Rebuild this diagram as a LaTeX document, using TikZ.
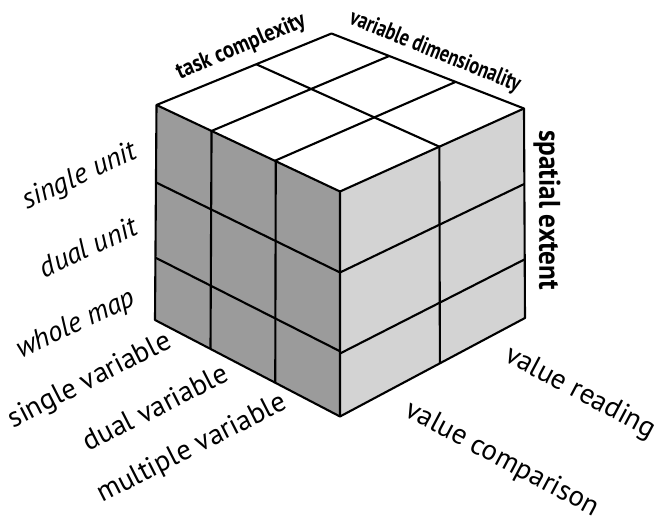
\documentclass[tikz,border=0pt]{standalone}
\usepackage{fontspec}
\setmainfont{PT Sans}
\usepackage{tikz}
\usetikzlibrary{calc}
\definecolor{face_dark}{HTML}{9B9B9B}
\definecolor{face_light}{HTML}{D3D3D3}

\begin{document}
\begin{tikzpicture}[line width=1.2pt, line join=round,
        level/.style={font=\fontsize{16.3}{18}\selectfont},
        axis/.style={font=\bfseries\fontsize{13.5}{15}\selectfont}]
                \useasboundingbox (0,0) rectangle (13.38,10.38);
                \coordinate (tl) at (3.13,8.28);
                \coordinate (tf) at (6.80,6.55);
                \coordinate (tr) at (10.48,8.21);
                \coordinate (tb) at (6.63,9.71);
                \coordinate (bl) at (3.10,3.98);
                \coordinate (bf) at (6.80,2.05);
                \coordinate (br) at (10.50,4.02);
                \fill[face_dark] (tl) -- (tf) -- (bf) -- (bl) -- cycle;
                \fill[face_light] (tf) -- (tr) -- (br) -- (bf) -- cycle;
                \fill[white] (tl) -- (tb) -- (tr) -- (tf) -- cycle;
                \foreach \t in {0.3,0.65}
                    \draw ($(tl)!\t!(tf)$) -- ($(bl)!\t!(bf)$);
                \foreach \t in {0.36,0.71}
                    \draw ($(tl)!\t!(bl)$) -- ($(tf)!\t!(bf)$);
                \foreach \t in {0.36,0.72}
                    \draw ($(tf)!\t!(bf)$) -- ($(tr)!\t!(br)$);
                \draw ($(tf)!0.54!(tr)$) -- ($(bf)!0.54!(br)$);
                \foreach \t in {0.3,0.645}
                    \draw ($(tl)!\t!(tf)$) -- ($(tb)!\t!(tr)$);
                \draw ($(tf)!0.54!(tr)$) -- ($(tl)!0.57!(tb)$);
                \draw (tl) -- (tb) -- (tr) -- (br) -- (bf) -- (bl) -- cycle;
                \draw (tl) -- (tf) -- (tr) (tf) -- (bf);
                \node[axis, rotate=23] (task) at (4.82,9.44) {\scalebox{0.87}[1]{task complexity}};
                \node[axis, rotate=-22] (dim) at (8.70,9.34) {\scalebox{0.77}[1]{variable dimensionality}};
                \node[axis, rotate=-90, font=\bfseries\fontsize{17}{19}\selectfont] (extent) at (10.94,6.18) {\scalebox{0.91}[1]{spatial extent}};
                \node[level, rotate=25] (single_unit) at (1.60,6.84) {\itshape single unit};
                \node[level, rotate=25] (dual_unit) at (1.76,5.44) {\itshape dual unit};
                \node[level, rotate=25] (whole_map) at (1.52,3.88) {\itshape whole map};
                \node[level, rotate=27] (single_var) at (1.80,2.76) {single variable};
                \node[level, rotate=27] (dual_var) at (3.10,2.24) {dual variable};
                \node[level, rotate=27] (multi_var) at (3.84,1.40) {multiple variable};
                \node[level, rotate=-28] (reading) at (11.60,2.52) {value reading};
                \node[level, rotate=-28] (comparison) at (10.04,1.19) {value comparison};
\end{tikzpicture}
\end{document}
